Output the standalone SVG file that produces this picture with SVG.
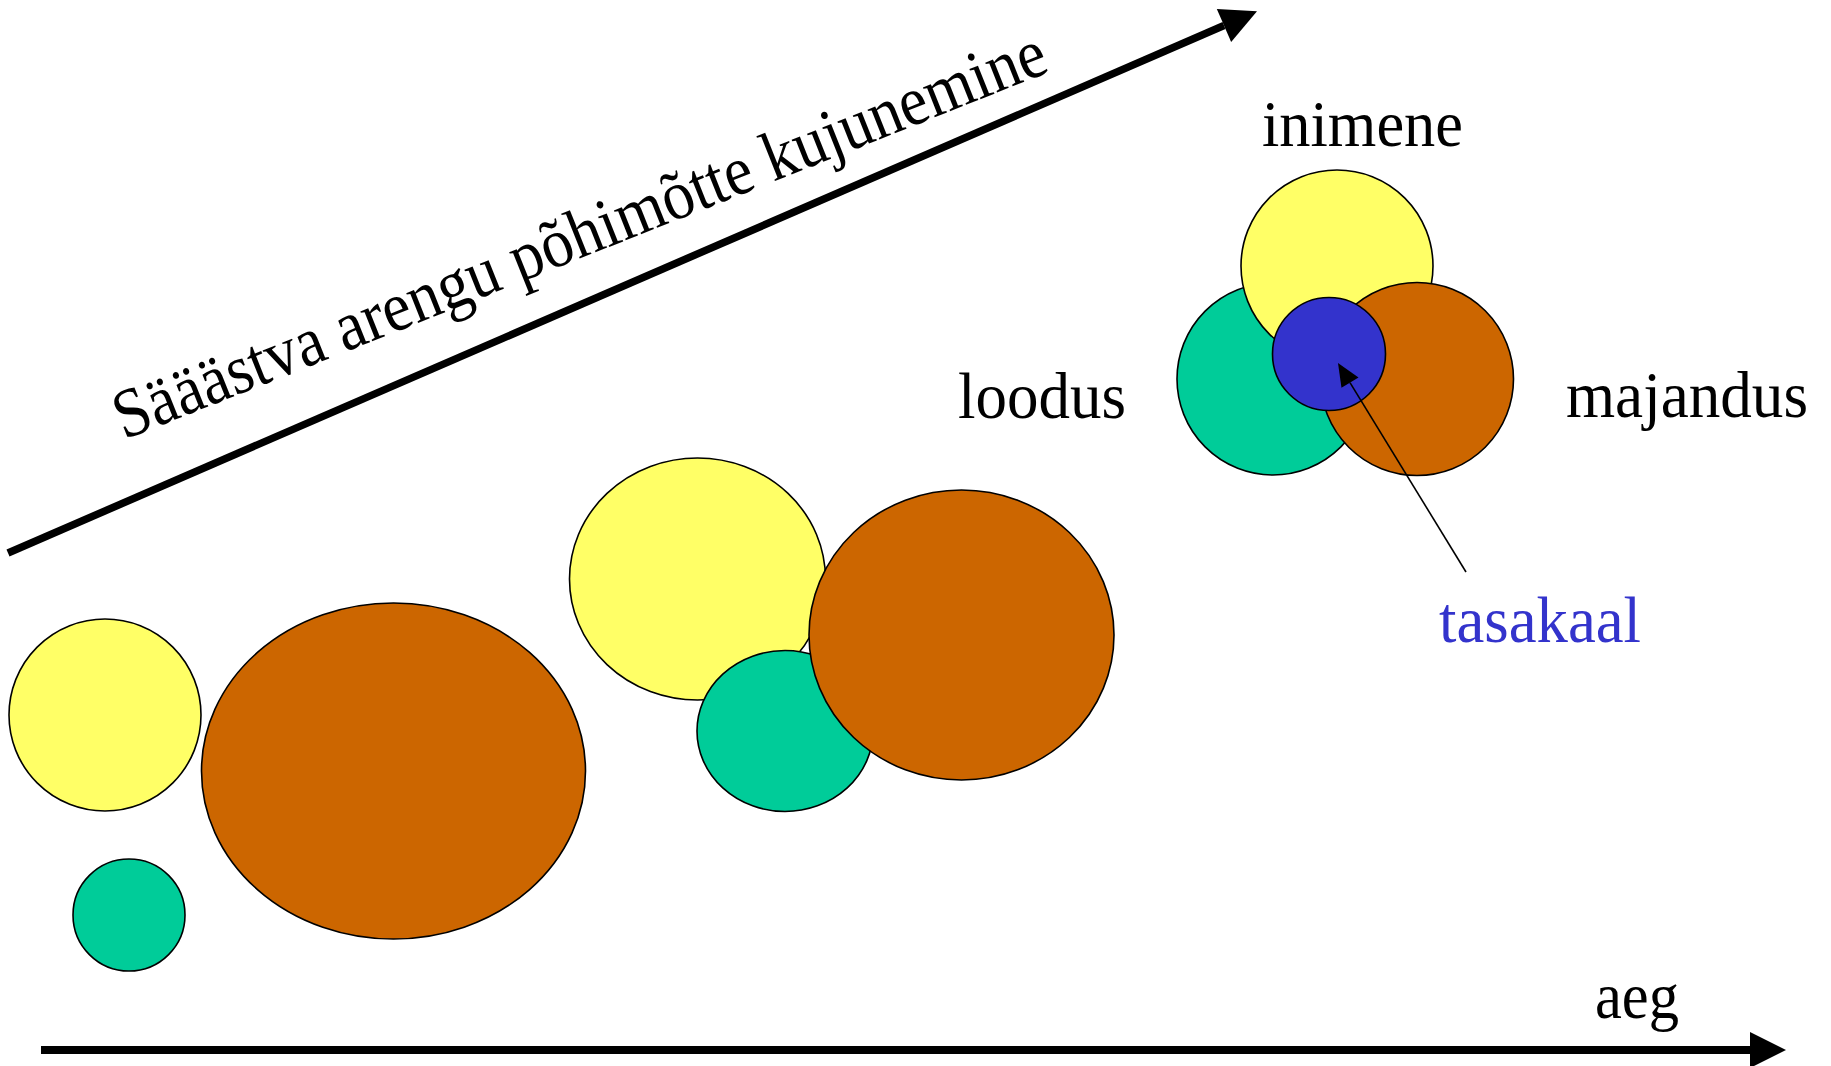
<svg xmlns="http://www.w3.org/2000/svg" width="1831" height="1066" viewBox="0 0 1831 1066">
<defs>
<style>
.c{stroke:#000;stroke-width:1.6}
.y{fill:#FFFF66}
.g{fill:#00CC99}
.b{fill:#CC6600}
.p{fill:#3333CC}
text{font-family:"Liberation Serif","Times New Roman",serif;font-size:66px;fill:#000}
.blue{fill:#3333CC}
.diag{font-size:70px}
</style>
<marker id="bigArrow" markerUnits="userSpaceOnUse" markerWidth="36" markerHeight="36" refX="0" refY="18" orient="auto" viewBox="0 0 36 36" overflow="visible">
<path d="M0,0 L36,18 L0,36 Z" fill="#000"/>
</marker>
<marker id="smallArrow" markerUnits="userSpaceOnUse" markerWidth="23" markerHeight="20" refX="0" refY="10" orient="auto" viewBox="0 0 23 20" overflow="visible">
<path d="M0,0 L23,10 L0,20 Z" fill="#000"/>
</marker>
</defs>
<rect width="1831" height="1066" fill="#fff"/>
<g id="stage1">
<ellipse class="c y" cx="105" cy="715" rx="96" ry="96"/>
<ellipse class="c g" cx="129" cy="915" rx="56" ry="56"/>
<ellipse class="c b" cx="393.5" cy="771" rx="192" ry="168"/>
</g>
<g id="stage2">
<ellipse class="c y" cx="697.5" cy="579" rx="128" ry="121"/>
<ellipse class="c g" cx="785" cy="731" rx="88" ry="80.5"/>
<ellipse class="c b" cx="961.5" cy="635" rx="152.5" ry="145"/>
</g>
<g id="stage3">
<circle class="c g" cx="1273" cy="379" r="96"/>
<circle class="c y" cx="1337" cy="266" r="96"/>
<circle class="c b" cx="1417" cy="379" r="96.5"/>
<circle id="tasakaal-node" class="c p" cx="1329" cy="354" r="56.5"/>
</g>
<g id="labels">
<text x="1262" y="146" textLength="201" lengthAdjust="spacingAndGlyphs">inimene</text>
<text x="958" y="418" textLength="168" lengthAdjust="spacingAndGlyphs">loodus</text>
<text x="1566" y="417" textLength="242" lengthAdjust="spacingAndGlyphs">majandus</text>
<text class="blue" x="1439" y="642" textLength="202" lengthAdjust="spacingAndGlyphs">tasakaal</text>
<text x="1595" y="1018" textLength="84" lengthAdjust="spacingAndGlyphs">aeg</text>
<text class="diag" x="124" y="440" transform="rotate(-21.7 124 440)" textLength="998" lengthAdjust="spacingAndGlyphs">Sääästva arengu põhimõtte kujunemine</text>
</g>
<g id="connectors">
<line x1="8" y1="553" x2="1224" y2="25.5" stroke="#000" stroke-width="7.5" marker-end="url(#bigArrow)"/>
<line x1="41" y1="1050" x2="1750" y2="1050" stroke="#000" stroke-width="8" marker-end="url(#bigArrow)"/>
<line x1="1466" y1="572" x2="1350" y2="382.6" stroke="#000" stroke-width="1.6" marker-end="url(#smallArrow)"/>
</g>
</svg>
